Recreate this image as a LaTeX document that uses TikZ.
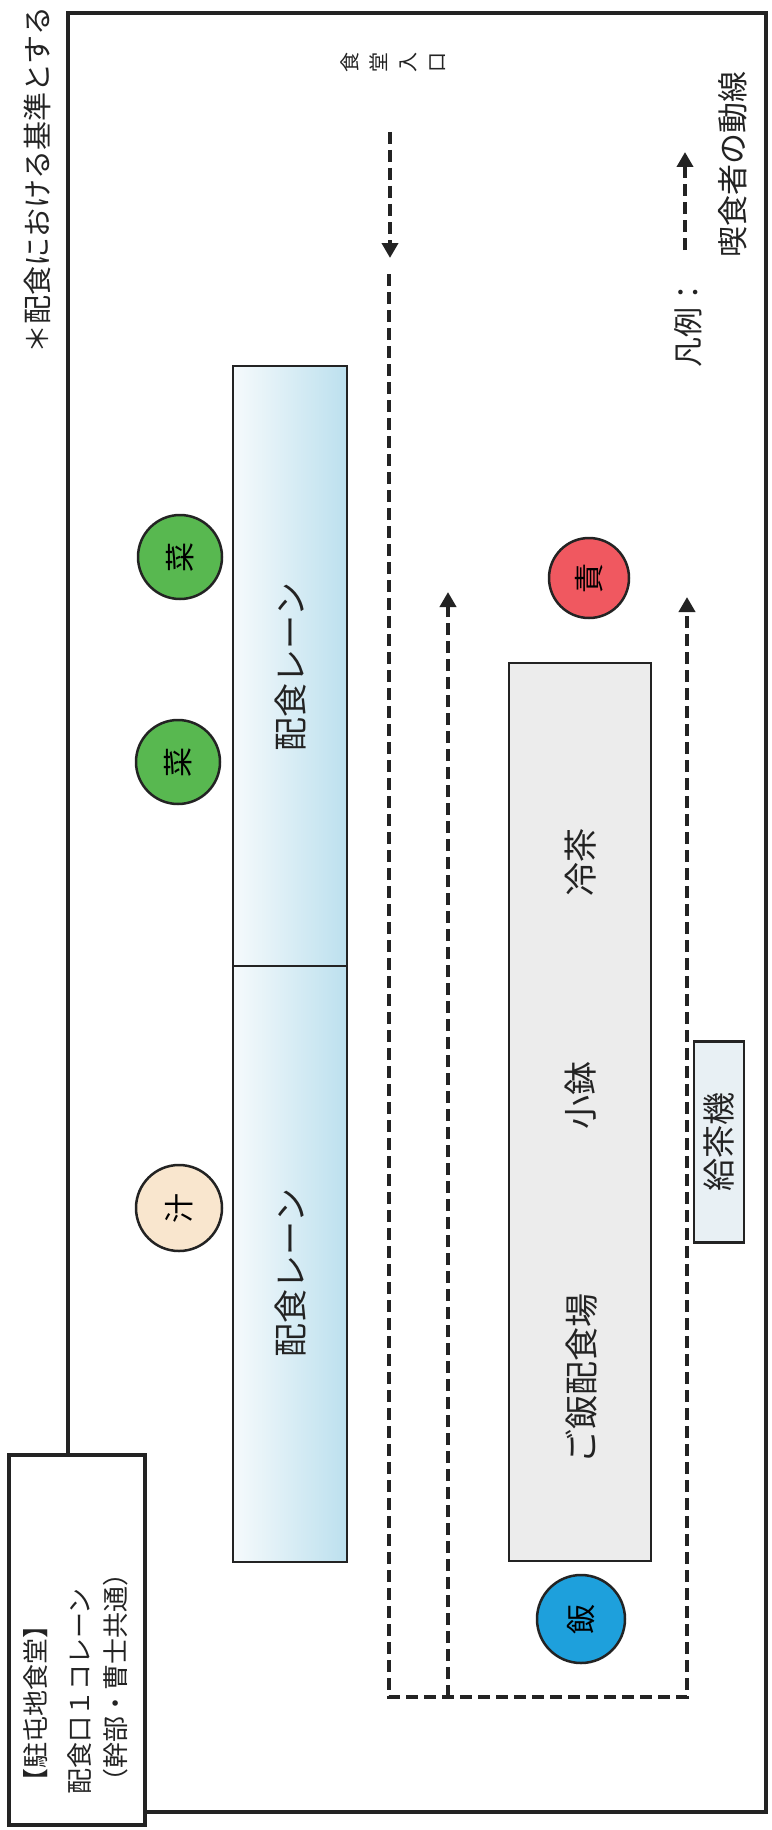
\documentclass[tikz,border=0pt]{standalone}
\usepackage{fontspec}
\setmainfont{Noto Sans CJK JP}
\usetikzlibrary{arrows.meta}
\definecolor{inkc}{RGB}{35,35,35}
\definecolor{greenc}{RGB}{88,184,80}
\definecolor{beigec}{RGB}{249,230,206}
\definecolor{redc}{RGB}{240,88,96}
\definecolor{bluec}{RGB}{30,160,220}
\definecolor{grayc}{RGB}{236,236,236}
\definecolor{laneL}{RGB}{246,250,252}
\definecolor{laneR}{RGB}{188,224,238}
\definecolor{teac}{RGB}{232,240,244}
\newcommand\fsz[1]{\fontsize{#1}{#1}\selectfont}
\begin{document}
\begin{tikzpicture}[x=1pt,y=-1pt,
  frameline/.style={draw=inkc, line width=4.5pt},
  boxshape/.style={draw=inkc, line width=2.5pt, inner sep=0pt, outer sep=0pt},
  dish/.style={circle, draw=inkc, line width=2.5pt, minimum size=84pt, inner sep=0pt, rotate=90, font=\fsz{30}},
  vtext/.style={rotate=90, inner sep=0pt, text=inkc},
  flow/.style={draw=inkc, line width=4.5pt, dash pattern=on 12pt off 6pt},
  tipped/.style={-{Triangle[width=16pt,length=15pt]}}]
\useasboundingbox (0,0) rectangle (771,1830);
\fill[white] (0,0) rectangle (771,1830);

% title box and frame
\node[boxshape, line width=4.5pt, minimum width=136pt, minimum height=370pt] (title) at (77,1640) {};
\draw[frameline] (68,1455) -- (68,13) -- (766,13) -- (766,1812) -- (145,1812);
\node[vtext, anchor=west, font=\fsz{26}] (t1) at (36,1795) {【駐屯地食堂】};
\node[vtext, anchor=west, font=\fsz{26}] (t2) at (80,1795) {配食口１コレーン};
\node[vtext, anchor=west, font=\fsz{26}] (t3) at (116,1795) {（幹部・曹士共通）};

% note outside frame
\node[vtext, anchor=east, font=\fsz{29}] (note) at (37,6) {＊配食における基準とする};

% lanes
\node[boxshape, minimum width=114pt, minimum height=600pt, left color=laneL, right color=laneR] (lane1) at (290,666) {};
\node[boxshape, minimum width=114pt, minimum height=596pt, left color=laneL, right color=laneR] (lane2) at (290,1264) {};
\node[vtext, font=\fsz{34}] (lane1t) at (291,667) {配食レーン};
\node[vtext, font=\fsz{34}] (lane2t) at (291,1273) {配食レーン};

% gray counter
\node[boxshape, fill=grayc, minimum width=142pt, minimum height=898pt] (rice) at (580,1112) {};
\node[vtext, font=\fsz{34}] (cold) at (581,862) {冷茶};
\node[vtext, font=\fsz{34}] (bowl) at (581,1095) {小鉢};
\node[vtext, font=\fsz{34}] (ricet) at (582,1378) {ご飯配食場};

% tea machine
\node[boxshape, fill=teac, minimum width=50pt, minimum height=201pt] (tea) at (719,1142) {};
\node[vtext, font=\fsz{33}] (teat) at (719,1142) {給茶機};

% dishes
\node[dish, fill=greenc] (sai1) at (180,557) {菜};
\node[dish, fill=greenc] (sai2) at (178,762) {菜};
\node[dish, fill=beigec, minimum size=86pt] (shiru) at (179,1208) {汁};
\node[dish, fill=redc, minimum size=80pt] (seki) at (589,578) {責};
\node[dish, fill=bluec, minimum size=88pt] (meshi) at (581,1619) {飯};

% entrance
\node[vtext, align=center, font=\fontsize{20}{29}\selectfont] (entr) at (393,63) {食\\堂\\入\\口};
\coordinate (e1) at (390,132);
\coordinate (e2) at (390,258);
\draw[flow, tipped] (e1) -- (e2);

% flow lines
\coordinate (l0) at (389,274);
\coordinate (bl) at (389,1697);
\coordinate (br) at (687,1697);
\coordinate (rt) at (687,597);
\coordinate (mb) at (448,1697);
\coordinate (mt) at (448,592);
\draw[flow, tipped] (l0) -- (bl) -- (br) -- (rt);
\draw[flow, tipped] (mb) -- (mt);

% legend
\node[vtext, anchor=west, font=\fsz{30}] (leg) at (688,368) {凡例：};
\coordinate (g1) at (685,250);
\coordinate (g2) at (685,152);
\draw[flow, tipped] (g1) -- (g2);
\node[vtext, anchor=west, font=\fsz{31}] (legt) at (733,258) {喫食者の動線};
\end{tikzpicture}
\end{document}
